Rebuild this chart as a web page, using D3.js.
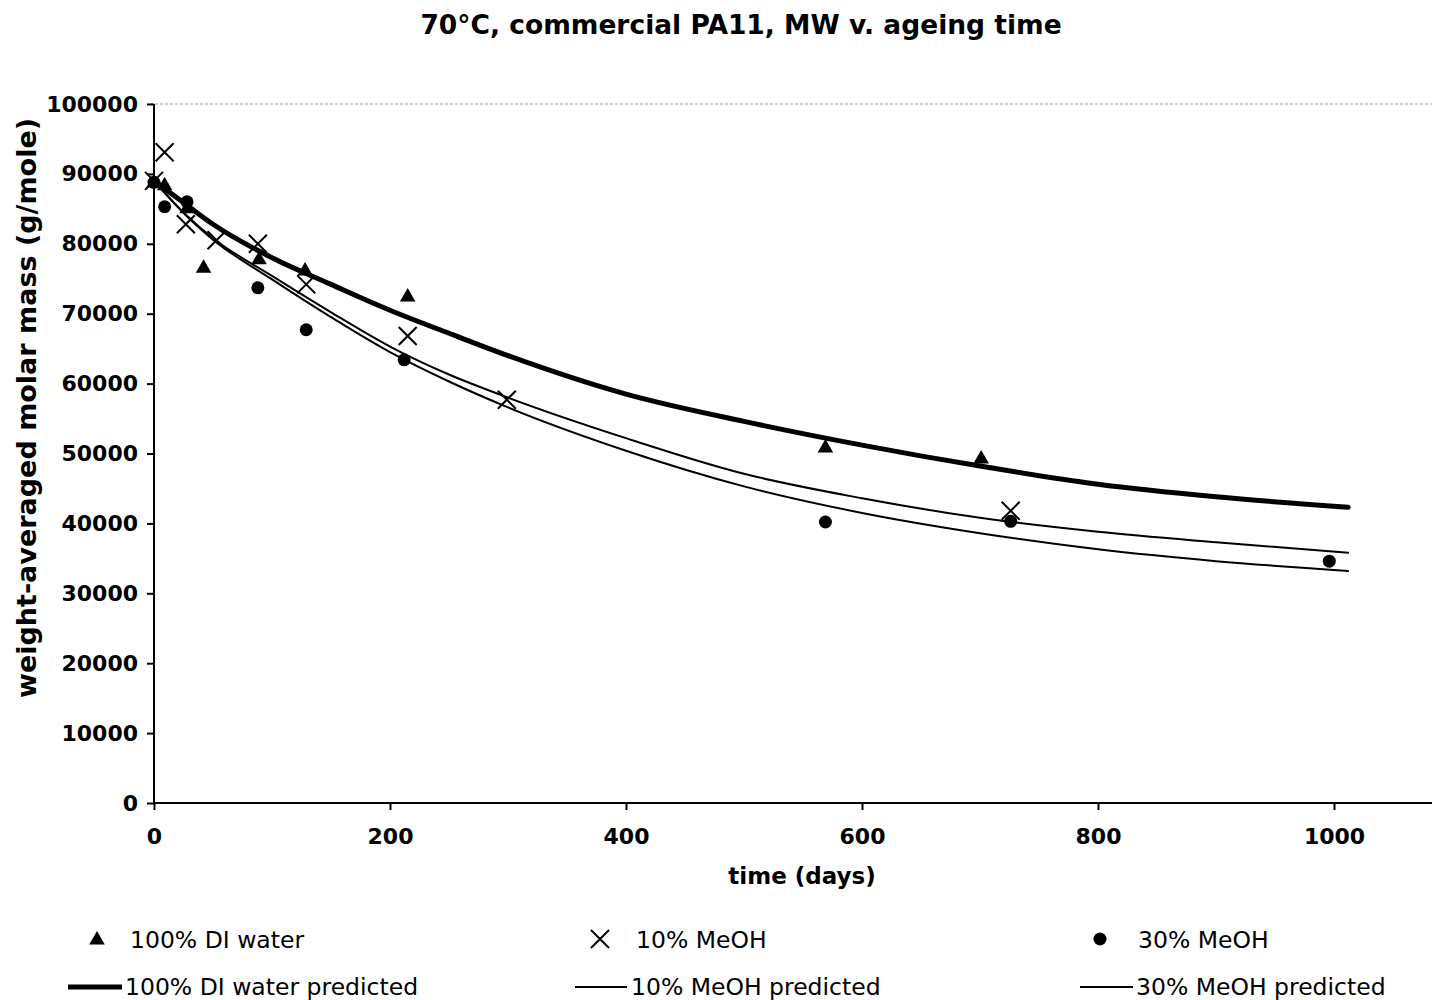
<!DOCTYPE html>
<html>
<head>
<meta charset="utf-8">
<script src="https://cdn.jsdelivr.net/npm/d3@7"></script>
<style>
  body { margin: 0; background: #fff; }
  svg { display: block; font-family: "DejaVu Sans", Verdana, sans-serif; }
</style>
</head>
<body>
<svg id="chart" width="1432" height="1000"></svg>
<script>
// measured points (days, g/mole)
const diWater = [[0, 88700], [9, 88300], [28, 85000], [42, 76500], [89, 77700], [128, 76100], [215, 72400], [569, 50800], [701, 49200]];
const meoh10 = [[0, 89000], [9, 93100], [27, 82800], [53, 80500], [88, 80000], [129, 74200], [215, 66800], [299, 57700], [726, 41800]];
const meoh30 = [[0, 88800], [9, 85300], [28, 86000], [88, 73700], [129, 67700], [212, 63400], [569, 40200], [726, 40300], [996, 34600]];

// predicted curves
const predDays = [0, 25, 50, 100, 150, 200, 250, 300, 400, 500, 600, 700, 800, 900, 1012];
const diPred = [89000, 85900, 82800, 78000, 74200, 70500, 67200, 64000, 58500, 54600, 51200, 48200, 45600, 43800, 42300];
const meoh10Pred = [89000, 84500, 80800, 75400, 70200, 65300, 61300, 58000, 52200, 47100, 43600, 40800, 38800, 37300, 35800];
const meoh30Pred = [89000, 84400, 80600, 74900, 69500, 64500, 60300, 56600, 50400, 45300, 41500, 38600, 36300, 34600, 33200];

const xTicks = [0, 200, 400, 600, 800, 1000];
const yTicks = d3.range(0, 100001, 10000);

const svg = d3.select('#chart');

const x = d3.scaleLinear().domain([0, 1000]).range([154, 1334]);
const y = d3.scaleLinear().domain([0, 100000]).range([803, 104]);

// title
svg.append('text')
    .attr('x', 741).attr('y', 34)
    .attr('text-anchor', 'middle')
    .attr('font-size', 26.5).attr('font-weight', 'bold')
    .text('70°C, commercial PA11, MW v. ageing time');

// faint top line at 100000
svg.append('line')
    .attr('x1', 150).attr('x2', 1432)
    .attr('y1', y(100000)).attr('y2', y(100000))
    .attr('stroke', '#999').attr('stroke-width', 1)
    .attr('stroke-dasharray', '3,2');

// axes
const xAxis = d3.axisBottom(x).tickValues(xTicks).tickSize(7).tickPadding(18).tickFormat(d3.format('d'));
const yAxis = d3.axisLeft(y).tickValues(yTicks).tickSize(7).tickPadding(9).tickFormat(d3.format('d'));

const gx = svg.append('g').attr('transform', `translate(0,${y(0)})`).call(xAxis);
const gy = svg.append('g').attr('transform', `translate(${x(0)},0)`).call(yAxis);

gx.select('.domain').remove();
gy.select('.domain').remove();
[gx, gy].forEach(g => {
    g.selectAll('line').attr('stroke', '#000').attr('stroke-width', 2);
    g.selectAll('text')
        .attr('font-size', 22)
        .attr('font-weight', 'bold')
        .attr('fill', '#000')
        .attr('font-family', '"DejaVu Sans", Verdana, sans-serif');
});

svg.append('line')
    .attr('x1', x(0)).attr('x2', 1432)
    .attr('y1', y(0)).attr('y2', y(0))
    .attr('stroke', '#000').attr('stroke-width', 2);
svg.append('line')
    .attr('x1', x(0)).attr('x2', x(0))
    .attr('y1', y(0)).attr('y2', y(100000))
    .attr('stroke', '#000').attr('stroke-width', 2);

// axis titles
svg.append('text')
    .attr('x', 802).attr('y', 884)
    .attr('text-anchor', 'middle')
    .attr('font-size', 23).attr('font-weight', 'bold')
    .text('time (days)');

svg.append('text')
    .attr('transform', 'translate(36,408) rotate(-90)')
    .attr('text-anchor', 'middle')
    .attr('font-size', 27).attr('font-weight', 'bold')
    .text('weight-averaged molar mass (g/mole)');

// predicted curves
const line = d3.line()
    .x(d => x(d[0]))
    .y(d => y(d[1]))
    .curve(d3.curveMonotoneX);

const curves = [
    { vals: diPred, width: 5 },
    { vals: meoh10Pred, width: 2 },
    { vals: meoh30Pred, width: 2 }
];

curves.forEach(c => {
    svg.append('path')
        .datum(predDays.map((d, i) => [d, c.vals[i]]))
        .attr('d', line)
        .attr('fill', 'none')
        .attr('stroke', '#000')
        .attr('stroke-width', c.width)
        .attr('stroke-linecap', 'round');
});

// marker helpers
const triangle = d3.symbol().type(d3.symbolTriangle).size(105);

function drawTriangle(g, cx, cy) {
    g.append('path')
        .attr('d', triangle())
        .attr('transform', `translate(${cx},${cy})`)
        .attr('fill', '#000');
}

function drawCross(g, cx, cy) {
    const s = 9;
    g.append('path')
        .attr('d', `M${cx - s},${cy - s}L${cx + s},${cy + s}M${cx - s},${cy + s}L${cx + s},${cy - s}`)
        .attr('stroke', '#000')
        .attr('stroke-width', 2)
        .attr('fill', 'none');
}

function drawDot(g, cx, cy) {
    g.append('circle')
        .attr('cx', cx).attr('cy', cy)
        .attr('r', 6.5)
        .attr('fill', '#000');
}

const pts = svg.append('g');
meoh30.forEach(d => drawDot(pts, x(d[0]), y(d[1])));
diWater.forEach(d => drawTriangle(pts, x(d[0]), y(d[1])));
meoh10.forEach(d => drawCross(pts, x(d[0]), y(d[1])));

// legend
const legend = svg.append('g').attr('font-size', 23.5);

drawTriangle(legend, 97, 940);
drawCross(legend, 600, 939);
drawDot(legend, 1100, 939);

const legendRows = [
    { x: 130, y: 948, label: '100% DI water' },
    { x: 636, y: 948, label: '10% MeOH' },
    { x: 1138, y: 948, label: '30% MeOH' },
    { x: 125, y: 995, label: '100% DI water predicted' },
    { x: 631, y: 995, label: '10% MeOH predicted' },
    { x: 1136, y: 995, label: '30% MeOH predicted' }
];

legendRows.forEach(r => {
    legend.append('text').attr('x', r.x).attr('y', r.y).text(r.label);
});

[[68, 122, 5], [575, 627, 2], [1080, 1133, 2]].forEach(l => {
    legend.append('line')
        .attr('x1', l[0]).attr('x2', l[1])
        .attr('y1', 987).attr('y2', 987)
        .attr('stroke', '#000')
        .attr('stroke-width', l[2]);
});
</script>
</body>
</html>
